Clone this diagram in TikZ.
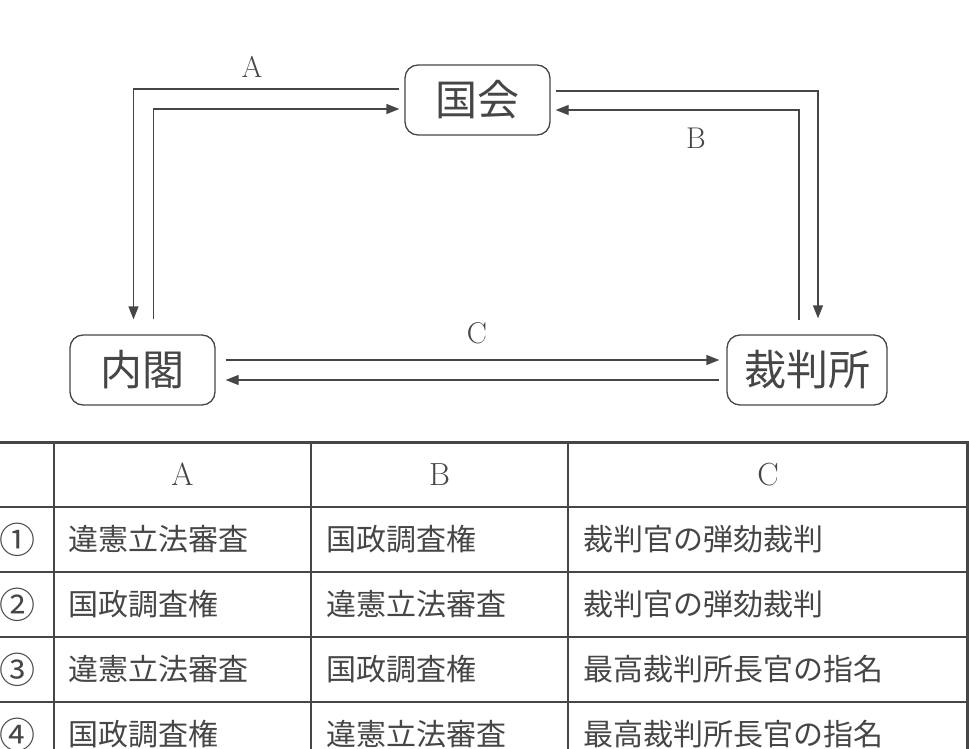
\documentclass[tikz,border=0pt]{standalone}
\usepackage{fontspec}
\newfontfamily\jpfont{Noto Sans CJK JP}
\usetikzlibrary{arrows.meta}
\definecolor{inkgray}{RGB}{70,70,70}
\tikzset{every picture/.style={line width=1.3pt}}
\tikzset{
  organ/.style={draw=inkgray,rounded corners=13pt,minimum height=70pt,inner sep=0pt,
    text=inkgray,font=\jpfont\fontsize{42}{42}\selectfont},
  arr/.style={draw=inkgray,-{Triangle[length=13pt,width=10pt]}},
  lbl/.style={text=inkgray,inner sep=0pt,font=\fontsize{30}{30}\selectfont},
  cell/.style={text=inkgray,inner sep=0pt,anchor=west,font=\jpfont\fontsize{30}{30}\selectfont},
  grid/.style={draw=inkgray,line width=1.1pt}
}

\begin{document}
\begin{tikzpicture}[x=1pt,y=1pt,yscale=-1,xscale=1]
\useasboundingbox (0,0) rectangle (969,749);

% Boxes
\node [organ,minimum width=145pt] (kokkai) at (477.5,100) {国会};
\node [organ,minimum width=145pt] (naikaku) at (142.5,370) {内閣};
\node [organ,minimum width=160pt] (saiban) at (807,370) {裁判所};

%Arrows A
\draw [arr] ([xshift=-5,yshift=-11]kokkai.west) -| ([xshift=-9,yshift=-15]naikaku.north);
\draw [arr] ([xshift=11,yshift=-15]naikaku.north) |- ([xshift=-5,yshift=9]kokkai.west);
%Arrows B
\draw [arr] ([xshift=5,yshift=-9]kokkai.east) -| ([xshift=11,yshift=-16]saiban.north);
\draw [arr] ([xshift=-8,yshift=-14]saiban.north) |- ([xshift=5,yshift=10]kokkai.east);
%Arrows C
\draw [arr] ([xshift=10,yshift=-10]naikaku.east) -- ([xshift=-7,yshift=-10]saiban.west);
\draw [arr] ([xshift=-7,yshift=10]saiban.west) -- ([xshift=10,yshift=10]naikaku.east);

% Text Node
\node [lbl] (labA) at (252,67) {A};
\node [lbl] (labB) at (696,138) {B};
\node [lbl] (labC) at (477,333) {C};

%Table lines
\draw [grid,line width=3pt] (0,442) -- (969,442);
\draw [grid,line width=2.5pt] (967.5,442) -- (967.5,749);
\foreach \y in {507,572,637,702}
  \draw [grid] (0,\y) -- (967,\y);
\foreach \x in {54,311,568}
  \draw [grid] (\x,442) -- (\x,749);

% Header
\node [lbl,font=\fontsize{32}{32}\selectfont] (headA) at (182.5,474.5) {A};
\node [lbl,font=\fontsize{32}{32}\selectfont] (headB) at (439.5,474.5) {B};
\node [lbl,font=\fontsize{32}{32}\selectfont] (headC) at (768,474.5) {C};

% Rows
\foreach \n/\num/\a/\b/\c in {1/①/違憲立法審査/国政調査権/裁判官の弾劾裁判,
                              2/②/国政調査権/違憲立法審査/裁判官の弾劾裁判,
                              3/③/違憲立法審査/国政調査権/最高裁判所長官の指名,
                              4/④/国政調査権/違憲立法審査/最高裁判所長官の指名}{
  \pgfmathsetmacro\yc{474.5+65*\n}
  \node [cell,anchor=center,font=\jpfont\fontsize{36}{36}\selectfont] (num\n) at (17,\yc) {\num};
  \node [cell] (ca\n) at (68,\yc) {\a};
  \node [cell] (cb\n) at (326,\yc) {\b};
  \node [cell] (cc\n) at (583,\yc) {\c};
}

\end{tikzpicture}
\end{document}
